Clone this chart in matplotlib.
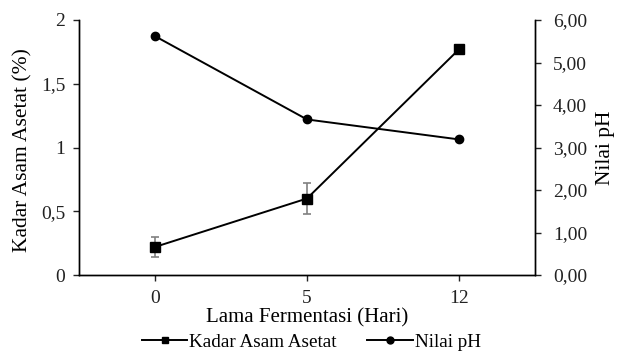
import numpy as np
import matplotlib.pyplot as plt
from matplotlib.lines import Line2D

plt.rcParams['font.family'] = ['Liberation Serif', 'DejaVu Serif']

days = ['0', '5', '12']
kadar = [0.22, 0.60, 1.77]
kadar_err = [0.08, 0.12, 0.0]
ph = [5.62, 3.66, 3.19]
ph_ticks = [0, 1, 2, 3, 4, 5, 6]

fig = plt.figure(figsize=(6.19, 3.56), dpi=100)
ax = fig.add_axes([79 / 619, 1 - 275 / 356, 456 / 619, 255 / 356])
ax2 = ax.twinx()

xpos = np.arange(len(days))
ax.errorbar(xpos, kadar, yerr=kadar_err, color='black', marker='s', ms=6.5,
            lw=1.4, ecolor='#808080', elinewidth=1.2, capsize=3.2, capthick=1.2,
            zorder=3)
ax2.plot(xpos, ph, color='black', marker='o', ms=6, lw=1.4)

ax.set_xlim(-0.5, 2.5)
ax.set_ylim(0, 2)
ax2.set_ylim(0, 6)
ax.set_xticks(xpos)
ax.set_xticklabels(days)
ax.set_yticks([0, 0.5, 1, 1.5, 2])
ax.set_yticklabels(['0', '0,5', '1', '1,5', '2'])
ax2.set_yticks(ph_ticks)
ax2.set_yticklabels(['{:.2f}'.format(v).replace('.', ',') for v in ph_ticks])

for a in (ax, ax2):
    a.spines['top'].set_visible(False)
    for s in a.spines.values():
        s.set_linewidth(1.0)
    a.tick_params(direction='out', length=4, width=1.0, labelsize=14,
                  colors='#222222')
ax.tick_params(axis='x', pad=7)
ax.tick_params(axis='y', pad=6)
ax2.tick_params(axis='y', pad=9)

ax.set_xlabel('Lama Fermentasi (Hari)', fontsize=15, va='center')
ax.xaxis.set_label_coords(0.5, -0.17)
ax.set_ylabel('Kadar Asam Asetat (%)', fontsize=15.5, va='center')
ax.yaxis.set_label_coords(-0.123, 0.49)
ax2.set_ylabel('Nilai pH', fontsize=15.5, va='center')
ax2.yaxis.set_label_coords(1.155, 0.5)

handles = [Line2D([], [], color='black', marker='s', ms=4, lw=1.4),
           Line2D([], [], color='black', marker='o', ms=5, lw=1.4)]
fig.legend(handles, ['Kadar Asam Asetat', 'Nilai pH'], loc='center',
           bbox_to_anchor=(0.503, 0.039), ncol=2, frameon=False, fontsize=13.75,
           handlelength=2.4, handletextpad=0.1, columnspacing=1.6,
           borderpad=0, borderaxespad=0)

fig.savefig('out.png', dpi=100)
